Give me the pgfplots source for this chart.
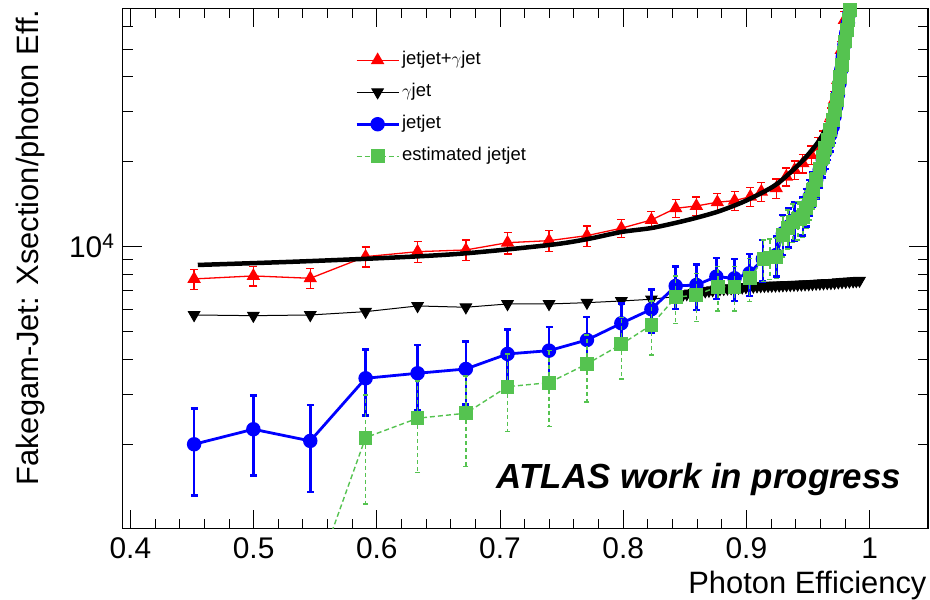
\documentclass[border=0pt]{standalone}
\usepackage{fontspec}
\setmainfont{Liberation Sans}
\usepackage{pgfplots}
\pgfplotsset{compat=1.18}
\definecolor{cRed}{RGB}{255,0,0}
\definecolor{cBlue}{RGB}{0,0,255}
\definecolor{cGreen}{RGB}{85,195,80}

\begin{document}
\begin{tikzpicture}
\useasboundingbox (-122.7bp,-71.5bp) rectangle (807.3bp,528.5bp);
\begin{axis}[
  scale only axis, width=805.3bp, height=520.2bp, clip mode=individual,
  xmin=0.39375, xmax=1.0474, ymode=log, ymin=1007, ymax=69700,
  xtick={0.4,0.5,0.6,0.7,0.8,0.9,1.0},
  xticklabels={0.4,0.5,0.6,0.7,0.8,0.9,1},
  minor x tick num=4, scaled x ticks=false,
  ytick={10000}, yticklabels={10\textsuperscript{4}},
  minor ytick={2000,3000,4000,5000,6000,7000,8000,9000,20000,30000,40000,50000,60000,70000},
  tick align=inside, major tick length=19bp, minor tick length=10bp,
  tick style={black, line width=0.9bp},
  axis line style={line width=1.1bp},
  xticklabel style={anchor=base, inner sep=0pt, yshift=-30.5bp, font=\fontsize{30}{30}\selectfont},
  yticklabel style={anchor=base east, inner sep=0pt, xshift=-8bp, yshift=-11bp, font=\fontsize{30}{30}\selectfont},
  legend cell align=left,
  legend style={at={(axis description cs:0.2885,0.9198)}, anchor=north west, draw=none, fill=none,
    font=\fontsize{18.5}{18.5}\selectfont, row sep=12bp, inner sep=0pt,
    nodes={inner sep=2bp, text height=12bp, text depth=4bp},
    /tikz/every even column/.append style={column sep=2.5bp}},
  legend image code/.code={\draw[mark repeat=2,mark phase=2] plot coordinates {(0bp,0bp)(21bp,0bp)(42bp,0bp)};},
]
% jetjet + gamma jet
\addplot[cRed, line width=1.3bp, mark=triangle*, mark size=6.5bp, mark options={solid},
  error bars/.cd, y dir=both, y explicit, error bar style={line width=1.3bp},
  error mark options={rotate=90, mark size=4bp, line width=1.3bp}]
  table[x=x, y=y, y error=e] {
x y e
0.4517 7690 620
0.4998 7880 620
0.5460 7730 620
0.5909 9220 750
0.6331 9600 800
0.6723 9735 820
0.7061 10330 900
0.7398 10500 880
0.7706 10940 900
0.7985 11620 850
0.8229 12430 900
0.8426 13670 1000
0.8594 13930 1050
0.8764 14360 1100
0.8904 14550 1100
0.9032 15030 1150
0.9121 15650 1200
0.9242 16090 1250
0.9324 17690 1300
0.9391 18680 1400
0.9458 19720 1500
0.9526 21100 1600
0.9580 22580 1700
0.9620 23850 1800
0.9661 25860 1900
0.9688 28830 2100
0.9715 33030 2400
0.9742 38880 2800
0.9770 49640 3500
0.9796 63390 4500
0.9837 70600 5000
};
\addlegendentry{jetjet+$\gamma$jet}
% fit curve
\addplot[forget plot, black, line width=4.5bp, smooth, mark=none] table {
0.4547 8615
0.5376 8862
0.6187 9173
0.6728 9477
0.7404 10140
0.7702 10620
0.7985 11270
0.8229 11640
0.8458 12230
0.8620 12740
0.8786 13380
0.8991 14510
0.9215 16300
0.9350 18180
0.9486 20810
0.9594 23850
0.9661 27320
0.9715 33030
0.9745 39500
0.9765 45000
};
% gamma jet
\addplot[black, line width=1bp, mark=triangle*, mark size=6.5bp, mark options={rotate=180}] table {
0.4517 5733
0.4998 5700
0.5460 5733
0.5909 5890
0.6331 6170
0.6723 6105
0.7061 6270
0.7398 6270
0.7706 6337
0.7985 6425
0.8229 6515
0.8426 6664
0.8456 6720
0.8486 6775
0.8516 6800
0.8546 6836
0.8576 6870
0.8606 6898
0.8636 6930
0.8666 6960
0.8696 6990
0.8726 7023
0.8756 7055
0.8786 7086
0.8816 7100
0.8846 7121
0.8876 7135
0.8906 7150
0.8936 7170
0.8966 7185
0.8996 7200
0.9026 7215
0.9056 7235
0.9086 7250
0.9116 7262
0.9146 7274
0.9176 7280
0.9206 7285
0.9236 7295
0.9266 7303
0.9296 7312
0.9326 7320
0.9356 7330
0.9386 7339
0.9416 7348
0.9446 7357
0.9476 7366
0.9506 7375
0.9536 7390
0.9566 7406
0.9596 7418
0.9626 7430
0.9656 7440
0.9686 7447
0.9716 7466
0.9746 7485
0.9776 7503
0.9806 7521
0.9836 7536
0.9866 7552
0.9892 7567
0.9918 7582
};
\addlegendentry{$\gamma$jet}
% jetjet
\addplot[cBlue, line width=2.8bp, mark=*, mark size=5.8bp,
  error bars/.cd, y dir=both, y explicit, error bar style={line width=2.5bp},
  error mark options={rotate=90, mark size=3.5bp, line width=2.5bp}]
  table[x=x, y=y, y error=e] {
x y e
0.4517 2000 680
0.4998 2260 710
0.5460 2055 700
0.5909 3423 900
0.6331 3566 920
0.6723 3693 930
0.7061 4173 915
0.7398 4287 915
0.7706 4677 970
0.7985 5358 940
0.8229 6006 1060
0.8426 7261 1240
0.8594 7320 1340
0.8756 7832 1300
0.8904 7730 1300
0.9026 8052 1350
0.9134 9045 1500
0.9243 9347 1500
0.9296 11150 1800
0.9345 11800 1850
0.9391 12430 1900
0.9458 12950 2000
0.9485 13900 2100
0.9513 15030 2200
0.9540 16100 2300
0.9567 17210 2400
0.9595 18700 2550
0.9620 20260 2700
0.9641 21700 2850
0.9661 23220 3000
0.9681 24900 3150
0.9701 26580 3300
0.9716 28900 3550
0.9729 31280 3800
0.9743 34500 4100
0.9756 37840 4400
0.9770 42300 4800
0.9782 47000 5200
0.9796 51900 5600
0.9810 56860 6000
0.9824 61900 6500
0.9837 66950 7000
};
\addlegendentry{jetjet}
% estimated jetjet
\addplot[cGreen, line width=1.4bp, dash pattern=on 5bp off 3bp, mark=square*, mark size=6.2bp,
  mark options={solid},
  error bars/.cd, y dir=both, y explicit,
  error bar style={line width=1.4bp, dash pattern=on 4bp off 3bp},
  error mark options={rotate=90, mark size=2.5bp, line width=1.4bp, solid}]
  table[x=x, y=y, y error=e] {
x y e
0.5460 600 300
0.5909 2111 880
0.6331 2472 880
0.6723 2575 910
0.7061 3197 980
0.7398 3303 995
0.7706 3847 1030
0.7985 4516 1110
0.8229 5284 1145
0.8426 6622 1264
0.8594 6746 1300
0.8769 7220 1300
0.8904 7220 1300
0.9026 7732 1350
0.9140 9046 1500
0.9190 9150 1500
0.9243 9218 1500
0.9296 11000 1800
0.9337 11650 1850
0.9377 12260 1900
0.9418 12500 1950
0.9458 12770 2000
0.9485 13700 2100
0.9513 14630 2200
0.9540 15900 2300
0.9567 17210 2400
0.9594 18900 2550
0.9620 20810 2700
0.9641 22300 2850
0.9661 23850 3000
0.9681 25900 3150
0.9701 28070 3300
0.9718 30500 3550
0.9734 33030 3800
0.9748 36400 4100
0.9762 39940 4400
0.9775 44000 4800
0.9788 48310 5200
0.9802 53200 5600
0.9815 58420 6000
0.9829 63500 6500
0.9843 68770 7000
};
\addlegendentry{estimated jetjet}
% texts
\node[anchor=base west, inner sep=0pt, font=\fontsize{35}{35}\selectfont\bfseries\itshape]
  at (axis description cs:0.4644,0.0773) {ATLAS work in progress};
\node[anchor=base east, inner sep=0pt, font=\fontsize{31}{31}\selectfont]
  at (axis description cs:0.9983,-0.1246) {Photon Efficiency};
\node[rotate=90, anchor=base east, inner sep=0pt, font=\fontsize{31}{31}\selectfont]
  at (axis description cs:-0.1048,0.998) {Fakegam-Jet: Xsection/photon Eff.};
\end{axis}
\end{tikzpicture}
\end{document}
